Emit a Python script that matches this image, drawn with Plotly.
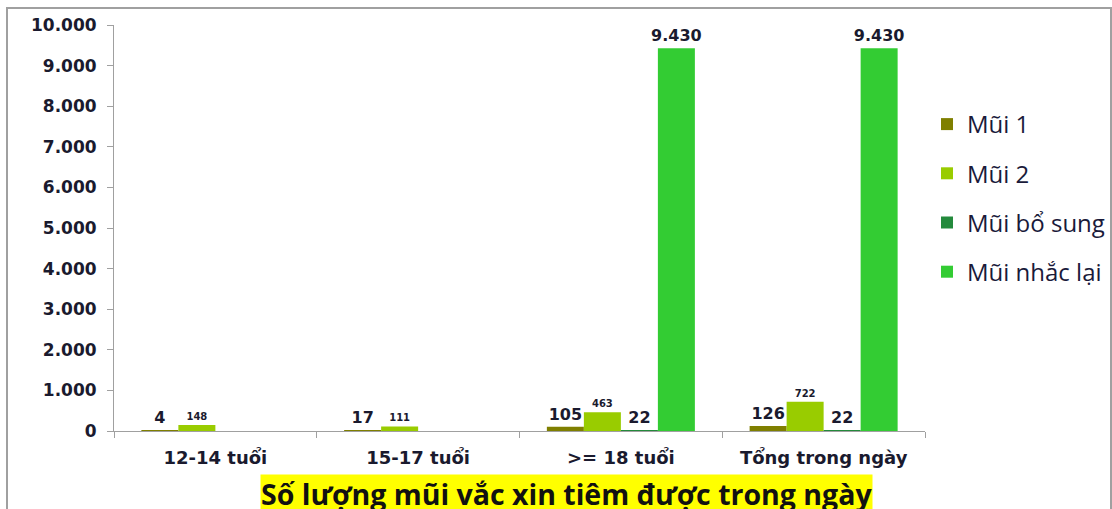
import plotly.graph_objects as go

categories = ["12-14 tuổi", "15-17 tuổi", ">= 18 tuổi", "Tổng trong ngày"]
series_names = ["Mũi 1", "Mũi 2", "Mũi bổ sung", "Mũi nhắc lại"]
mui1 = [4, 17, 105, 126]
mui2 = [148, 111, 463, 722]
mui_bo_sung = [None, None, 22, 22]
mui_nhac_lai = [None, None, 9430, 9430]
tick_vals = [0, 1000, 2000, 3000, 4000, 5000, 6000, 7000, 8000, 9000, 10000]
title_text = "Số lượng mũi vắc xin tiêm được trong ngày"

colors = ["#7f7f00", "#99cc00", "#238a3c", "#33cc33"]
label_sizes = [16, 10, 16, 16]

def fmt(v):
    return "" if v is None else f"{v:,}".replace(",", ".")

W, H = 1112, 509
ML, MR, MT, MB = 114, 10, 25, 78
PW = W - ML - MR
PH = H - MT - MB
plot_right = 925

def px_x(p):
    return (p - ML) / PW

def px_y(p):
    return (H - MB - p) / PH

fig = go.Figure()
for name, vals, col, ls in zip(series_names, [mui1, mui2, mui_bo_sung, mui_nhac_lai], colors, label_sizes):
    fig.add_trace(go.Bar(
        x=categories, y=vals, name=name, legendgroup=name,
        marker=dict(color=col, line=dict(width=0)),
        text=[fmt(v) for v in vals], textposition="outside",
        constraintext="none",
        textfont=dict(family="DejaVu Sans", size=ls, color="#1a1a2e", weight="bold"),
        cliponaxis=False,
    ))

fig.update_layout(
    width=W, height=H,
    margin=dict(l=ML, r=MR, t=MT, b=MB, autoexpand=False),
    plot_bgcolor="white", paper_bgcolor="white",
    barmode="group", bargap=0.27, bargroupgap=0,
    separators=",.",
    showlegend=True,
    legend=dict(xref="container", yref="container",
                x=927 / W, y=1 - 102 / H, xanchor="left", yanchor="top",
                bgcolor="rgba(0,0,0,0)",
                font=dict(family="Open Sans", size=24, color="#1a1a3a"),
                tracegroupgap=15, itemwidth=30,
                traceorder="grouped"),
    xaxis=dict(domain=[0, (plot_right - ML) / PW],
               showline=True, linecolor="#a0a0a0", linewidth=1,
               ticks="outside", tickson="boundaries", ticklen=6, tickcolor="#a0a0a0",
               ticklabelstandoff=10,
               tickfont=dict(family="DejaVu Sans", size=18, color="#1a1a2e", weight="bold"),
               showgrid=False),
    yaxis=dict(range=[0, 10000], tickvals=tick_vals, tickformat=",",
               showline=True, linecolor="#a0a0a0", linewidth=1,
               ticks="outside", ticklen=6, tickcolor="#a0a0a0",
               ticklabelstandoff=7,
               tickfont=dict(family="DejaVu Sans", size=17, color="#1a1a2e", weight="bold"),
               showgrid=False, zeroline=False),
    annotations=[dict(text="<b>" + title_text + "</b>", xref="paper", yref="paper",
                      x=px_x(566), y=px_y(474), xanchor="center", yanchor="top", showarrow=False,
                      bgcolor="#ffff00", borderpad=0,
                      font=dict(family="Open Sans", size=28.5, color="#111111"))],
    shapes=[dict(type="rect", xref="paper", yref="paper",
                 x0=px_x(7), x1=px_x(1111), y0=px_y(540), y1=px_y(8),
                 line=dict(color="#a0a0a0", width=2), fillcolor="rgba(0,0,0,0)", layer="below")],
)

fig.write_html("out.html", config={"displayModeBar": False},
               post_script="document.body.style.margin='0';document.body.style.overflow='hidden';")
